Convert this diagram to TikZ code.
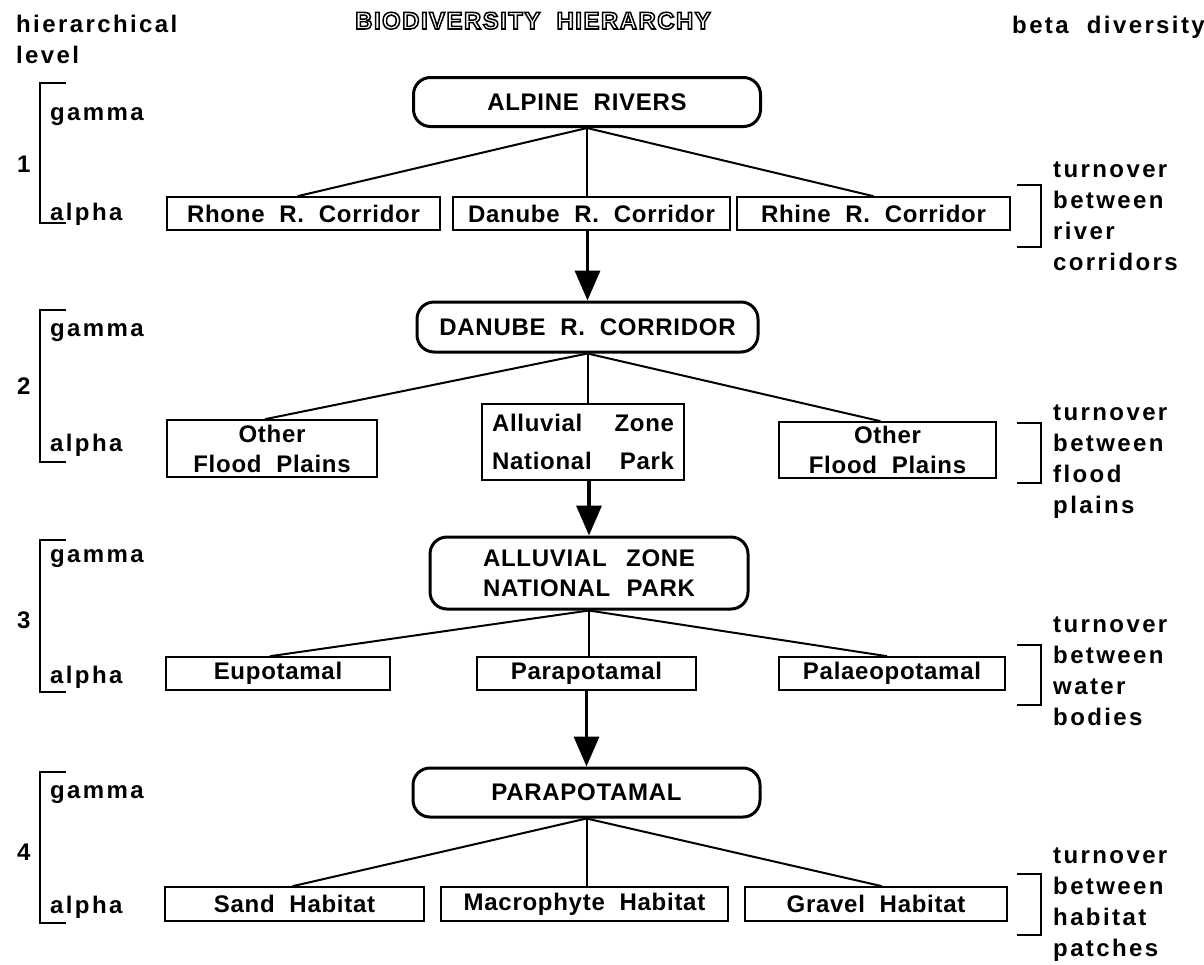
\documentclass[tikz,border=0pt]{standalone}
\usepackage{fontspec}
\setmainfont{Liberation Sans}
\newfontfamily\labfont[LetterSpace=10]{Liberation Sans Bold}
\newfontfamily\boxfont[LetterSpace=3]{Liberation Sans Bold}
\newfontfamily\ttlfont[LetterSpace=6]{Liberation Sans Bold}
% hollow letters for the title
\newcommand\hollow[1]{\special{pdf:literal direct 1 Tr 1.5 w}#1\special{pdf:literal direct 0 Tr}}
\usetikzlibrary{arrows.meta}

\begin{document}
\begin{tikzpicture}[x=1pt,y=-1pt,
  sidelab/.style={font=\fontsize{24}{31}\selectfont\labfont, inner sep=0pt, anchor=base west, align=left},
  leafbox/.style={draw, line width=1.6pt, inner sep=0pt, font=\fontsize{24}{30}\selectfont\boxfont, align=center},
  headbox/.style={draw, line width=3pt, rounded corners=17pt, inner sep=0pt, font=\fontsize{24}{30}\selectfont\boxfont, align=center},
  link/.style={line width=2pt},
  down/.style={line width=3.5pt, -{Triangle[length=30pt,width=25pt]}},
  brace/.style={line width=1.6pt}]
  \useasboundingbox (0,0) rectangle (1204,964);

  % Headings (base of a multi-line node = its last line)
  \node[sidelab] (hier) at (16,63) {hierarchical\\level};
  \node[inner sep=0pt, anchor=base west, font=\fontsize{24}{28}\selectfont\ttlfont] (title) at (355,29)
    {\hollow{BIODIVERSITY~~HIERARCHY}};
  \node[sidelab] (beta) at (1012,33) {beta~~diversity};

  % Left brackets and levels
  \foreach \ya/\yb/\yg/\yl/\yn/\n in {83/223/120/220/172/1, 310/462/336/451/394/2,
      540/692/562/683/628/3, 772/923/798/913/860/4} {
    \draw[brace] (66,\ya) -- (40,\ya) -- (40,\yb) -- (66,\yb);
    \node[sidelab] (gamma\n) at (50,\yg) {gamma};
    \node[sidelab] (alpha\n) at (50,\yl) {alpha};
    \node[sidelab, font=\fontsize{24}{31}\selectfont\bfseries] (num\n) at (17,\yn) {\n};
  }

  % Right brackets
  \foreach \ya/\yb/\n in {185/247/1, 423/483/2, 645/705/3, 874/935/4} {
    \draw[brace] (1017,\ya) -- (1041,\ya) -- (1041,\yb) -- (1017,\yb);
  }
  \node[sidelab] (turn1) at (1053,270) {turnover\\between\\river\\corridors};
  \node[sidelab] (turn2) at (1053,513) {turnover\\between\\flood\\plains};
  \node[sidelab] (turn3) at (1053,725) {turnover\\between\\water\\bodies};
  \node[sidelab] (turn4) at (1053,956) {turnover\\between\\habitat\\patches};

  % Level 1
  \node[headbox, minimum width=347pt, minimum height=49pt] (alpine) at (587,102) {ALPINE~~RIVERS};
  \node[leafbox, minimum width=273pt, minimum height=33pt] (rhone) at (303.5,213.5) {Rhone~~R.~~Corridor};
  \node[leafbox, minimum width=277pt, minimum height=33pt] (danube) at (591.5,213.5) {Danube~~R.~~Corridor};
  \node[leafbox, minimum width=273pt, minimum height=33pt] (rhine) at (873.5,213.5) {Rhine~~R.~~Corridor};
  \draw[link] (alpine.south) -- ([xshift=-6pt]rhone.north);
  \draw[link] (alpine.south) -- (alpine.south |- danube.north);
  \draw[link] (alpine.south) -- (rhine.north);

  % Level 2
  \node[headbox, minimum width=341pt, minimum height=50pt] (danubec) at (587.5,327) {DANUBE~~R.~~CORRIDOR};
  \node[leafbox, minimum width=210pt, minimum height=57pt] (otherl) at (272,448.5) {Other\\Flood~~Plains};
  \node[leafbox, minimum width=202pt, minimum height=76pt, text width=182pt, align=left,
    font=\fontsize{24}{38}\selectfont\boxfont] (alluvial) at (583,442) {Alluvial\hfill Zone\\National\hfill Park};
  \node[leafbox, minimum width=217pt, minimum height=56pt] (otherr) at (887.5,450) {Other\\Flood~~Plains};
  \draw[down] (danubec.north |- danube.south) -- (danubec.north);
  \draw[link] (danubec.south) -- ([xshift=-7pt]otherl.north);
  \draw[link] (danubec.south) -- (danubec.south |- alluvial.north);
  \draw[link] (danubec.south) -- ([xshift=-7pt]otherr.north);

  % Level 3
  \node[headbox, minimum width=318pt, minimum height=72pt, text width=212pt, align=left] (alluvialc) at (589,573)
    {ALLUVIAL\hfill ZONE\\NATIONAL\hfill PARK};
  \node[leafbox, minimum width=224pt, minimum height=33pt] (eupo) at (278,673.5) {Eupotamal};
  \node[leafbox, minimum width=219pt, minimum height=33pt] (parapo) at (586.5,673.5) {Parapotamal};
  \node[leafbox, minimum width=226pt, minimum height=33pt] (palaeo) at (892,673.5) {Palaeopotamal};
  \draw[down] (alluvialc.north |- alluvial.south) -- (alluvialc.north);
  \draw[link] (alluvialc.south) -- ([xshift=-8pt]eupo.north);
  \draw[link] (alluvialc.south) -- (alluvialc.south |- parapo.north);
  \draw[link] (alluvialc.south) -- ([xshift=-5pt]palaeo.north);

  % Level 4
  \node[headbox, minimum width=347pt, minimum height=49pt] (parapoc) at (586.5,792.5) {PARAPOTAMAL};
  \node[leafbox, minimum width=259pt, minimum height=34pt] (sand) at (294.5,904) {Sand~~Habitat};
  \node[leafbox, minimum width=287pt, minimum height=34pt] (macro) at (584.5,904) {Macrophyte~~Habitat};
  \node[leafbox, minimum width=262pt, minimum height=34pt] (gravel) at (876,904) {Gravel~~Habitat};
  \draw[down] (parapoc.north |- parapo.south) -- (parapoc.north);
  \draw[link] (parapoc.south) -- ([xshift=-2pt]sand.north);
  \draw[link] (parapoc.south) -- (parapoc.south |- macro.north);
  \draw[link] (parapoc.south) -- ([xshift=6pt]gravel.north);
\end{tikzpicture}
\end{document}
